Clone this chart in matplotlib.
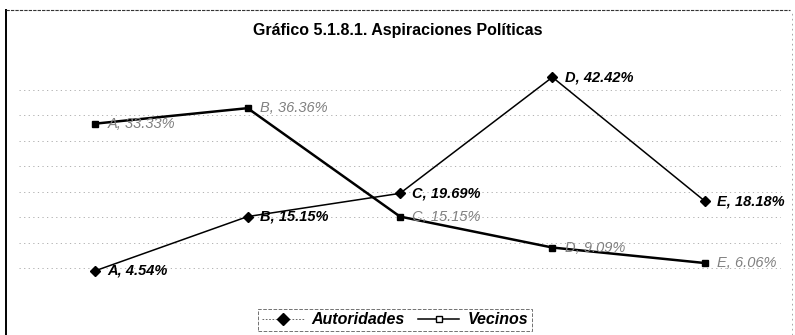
import numpy as np
import matplotlib
matplotlib.use('agg')
import matplotlib.pyplot as plt
from matplotlib.lines import Line2D

plt.rcParams['font.family'] = ['Liberation Sans', 'DejaVu Sans']

# datos
categorias = ['A', 'B', 'C', 'D', 'E']
autoridades = [4.54, 15.15, 19.69, 42.42, 18.18]
vecinos = [33.33, 36.36, 15.15, 9.09, 6.06]
titulo = 'Gráfico 5.1.8.1. Aspiraciones Políticas'


def main():
    fig = plt.figure(figsize=(7.95, 3.35), dpi=100)
    ax = fig.add_axes([19/795, 41/335, 762/795, 230/335])

    x = np.arange(len(categorias))

    # rejilla punteada
    for y in range(5, 45, 5):
        ax.axhline(y, color='0.65', linestyle=(0, (1.5, 4)), linewidth=0.6, zorder=0)

    ax.plot(x, vecinos, color='black', linewidth=1.8, marker='s', markersize=4,
            markerfacecolor='black', label='Vecinos', zorder=3)
    ax.plot(x, autoridades, color='black', linewidth=1.1, marker='D', markersize=5.5,
            label='Autoridades', zorder=4)

    # etiquetas de valores
    for xi, cat, v in zip(x, categorias, autoridades):
        ax.annotate('{}, {:.2f}%'.format(cat, v), (xi, v), xytext=(9, 0),
                    textcoords='offset points', va='center', ha='left',
                    fontsize=10.5, fontweight='bold', style='italic', color='black')
    for xi, cat, v in zip(x, categorias, vecinos):
        ax.annotate('{}, {:.2f}%'.format(cat, v), (xi, v), xytext=(9, 0),
                    textcoords='offset points', va='center', ha='left',
                    fontsize=10.5, style='italic', color='0.5')

    ax.set_xlim(-0.5, 4.5)
    ax.set_ylim(0, 45)
    ax.axis('off')

    fig.text(0.5, 1 - 30/335, titulo, ha='center', va='center',
             fontsize=11.5, fontweight='bold')

    # leyenda
    handles = [
        Line2D([], [], color='0.3', linestyle=(0, (2, 2)), linewidth=0.6,
               marker='D', markersize=6, markerfacecolor='black',
               markeredgecolor='black'),
        Line2D([], [], color='black', linewidth=1.1, marker='s', markersize=4,
               markerfacecolor='white'),
    ]
    leg = fig.legend(handles, ['Autoridades', 'Vecinos'], loc='center',
                     bbox_to_anchor=(0.497, 1 - 320/335), ncol=2,
                     prop={'weight': 'bold', 'style': 'italic', 'size': 11.5},
                     fancybox=False, handlelength=2.6, columnspacing=0.8,
                     borderpad=0.25, handletextpad=0.5)
    leg.get_frame().set_edgecolor('0.3')
    leg.get_frame().set_linestyle('--')
    leg.get_frame().set_linewidth(0.7)

    # marco
    fig.add_artist(Line2D([6/795, 6/795], [0, 1 - 10/335], color='black',
                          linewidth=1.4, transform=fig.transFigure))
    fig.add_artist(Line2D([6/795, 790/795], [1 - 10/335, 1 - 10/335], color='0.2',
                          linewidth=0.8, linestyle=(0, (3, 1)), transform=fig.transFigure))
    fig.add_artist(Line2D([792/795, 792/795], [0, 1 - 10/335], color='0.6',
                          linewidth=0.6, linestyle=(0, (2, 4)), transform=fig.transFigure))

    plt.savefig('out.png', dpi=100)


if __name__ == "__main__":
    main()
